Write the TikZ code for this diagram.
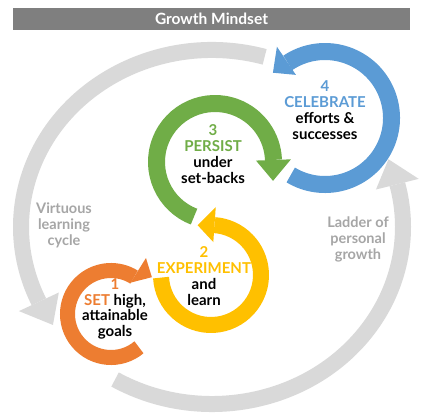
\documentclass[tikz,border=0pt]{standalone}
\usepackage{fontspec}
\setmainfont{Lato}
\usetikzlibrary{calc}
\definecolor{cOrange}{HTML}{ED7D31}
\definecolor{cYellow}{HTML}{FFC000}
\definecolor{cGreen}{HTML}{70AD47}
\definecolor{cBlue}{HTML}{5B9BD5}
\definecolor{cRing}{HTML}{D9D9D9}
\definecolor{cLabel}{HTML}{A6A6A6}
\definecolor{cBar}{HTML}{7F7F7F}
% #1 colour, #2 centre, #3 mid radius, #4 band width, #5 start angle, #6 end angle
\newcommand\myringarc[6]{%
  \draw[#1, line width=#4pt] ([shift={(#2)}]#5:#3pt) arc[start angle=#5, end angle=#6, radius=#3pt];}
% #1 colour, #2 centre, #3 base angle, #4 outer barb r, #5 inner barb r, #6 tip angle, #7 tip r
\newcommand\myringhead[7]{%
  \fill[#1] ([shift={(#2)}]#3:#4pt) -- ([shift={(#2)}]#6:#7pt) -- ([shift={(#2)}]#3:#5pt) -- cycle;}
\tikzset{
  steptext/.style={align=center, font=\fontsize{15}{15.8}\selectfont\bfseries, text=black, inner sep=0pt},
  sidetext/.style={align=center, font=\fontsize{14.5}{16}\selectfont\bfseries, text=cLabel, inner sep=0pt},
  bigring/.style={cRing, line width=16pt}
}
\begin{document}
\begin{tikzpicture}[x=1pt,y=1pt]
\useasboundingbox (0,0) rectangle (430,417);
\fill[white] (0,0) rectangle (430,417);
% title bar
\fill[cBar] (13,387) rectangle (410,409);
\node[font=\fontsize{15.5}{17}\selectfont\bfseries, text=white, inner sep=0pt] (title) at (211.5,398) {Growth Mindset};
% big grey cycle
\coordinate (G) at (212,190);
\draw[bigring] ([shift={(G)}]74:191pt and 177pt) arc[start angle=74, end angle=205, x radius=191pt, y radius=177pt];
\fill[cRing] ([shift={(G)}]205:213pt and 199pt) -- ([shift={(G)}]213.6:191pt and 177pt) -- ([shift={(G)}]205:169pt and 155pt) -- cycle;
\draw[bigring] ([shift={(G)}]239.5:191pt and 177pt) arc[start angle=239.5, end angle=374, x radius=191pt, y radius=177pt];
\fill[cRing] ([shift={(G)}]374:213pt and 199pt) -- ([shift={(G)}]382.5:191pt and 177pt) -- ([shift={(G)}]374:169pt and 155pt) -- cycle;
% coloured rings
\coordinate (CB) at (325,299);
\coordinate (CG) at (215,255);
\coordinate (CY) at (211,142);
\coordinate (CO) at (111,103);
\myringarc{cBlue}{CB}{66.5}{17}{239}{484}
\myringhead{cBlue}{CB}{124}{86}{52}{139}{69}
\myringarc{cGreen}{CG}{58.5}{17}{249}{2}
\myringhead{cGreen}{CG}{2}{76}{41}{-18}{61}
\myringarc{cYellow}{CY}{50}{16}{183}{446}
\myringhead{cYellow}{CY}{86}{68}{33}{105}{51.5}
\myringarc{cOrange}{CO}{43.5}{15}{-50}{-302}
\myringhead{cOrange}{CO}{58}{66}{37}{42}{55}
% texts
\node[steptext] (t4) at (325,307) {\textcolor{cBlue}{4}\\\textcolor{cBlue}{CELEBRATE}\\efforts \&\\successes};
\node[steptext] (t3) at (213,263) {\textcolor{cGreen}{3}\\\textcolor{cGreen}{PERSIST}\\under\\set-backs};
\node[steptext] (t2) at (204,141) {\textcolor{cYellow}{2}\\\textcolor{cYellow}{EXPERIMENT}\\and\\learn};
\node[steptext] (t1) at (115,108) {\textcolor{cOrange}{1}\\\textcolor{cOrange}{SET} high,\\attainable\\goals};
\node[sidetext] (vl) at (64,192) {Virtuous\\learning\\cycle};
\node[sidetext] (lp) at (358,178) {Ladder of\\personal\\growth};
\end{tikzpicture}
\end{document}
